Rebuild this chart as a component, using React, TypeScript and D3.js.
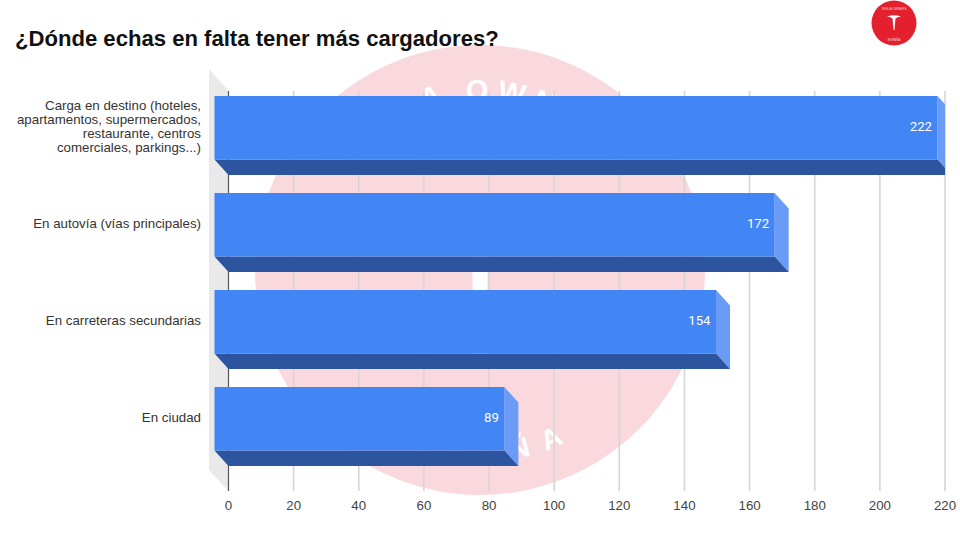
import React from "react";
import * as d3 from "d3";

const categories = [
  ["Carga en destino (hoteles,", "apartamentos, supermercados,", "restaurante, centros", "comerciales, parkings...)"],
  ["En autovía (vías principales)"],
  ["En carreteras secundarias"],
  ["En ciudad"],
];
const values = [222, 172, 154, 89];
const ticks = [0, 20, 40, 60, 80, 100, 120, 140, 160, 180, 200, 220];
const title = "¿Dónde echas en falta tener más cargadores?";

const font = "Arial, 'Liberation Sans', sans-serif";
const W = 960, H = 540;
const dx = 14, dy = 15.5;
const barH = 63.5;
const axisTop = 91, axisBottom = 491;

export default function App() {
  const x = d3.scaleLinear().domain([0, 220]).range([228.5, 945]);
  const y = d3.scaleBand<number>().domain(d3.range(values.length)).range([96, 484]).paddingInner(0).paddingOuter(0);
  const pts = (p: number[][]) => p.map((q) => q.join(",")).join(" ");
  return (
    <svg width={W} height={H} viewBox={`0 0 ${W} ${H}`} style={{ position: "absolute", left: 0, top: 0, background: "#fff" }} fontFamily={font}>
      <defs>
        <clipPath id="plot"><rect x={0} y={0} width={x(220)} height={H} /></clipPath>
        <path id="ringTop" d="M 310 270 A 170 170 0 0 1 650 270" />
        <path id="ringBottom" d="M 288 270 A 192 192 0 0 0 672 270" />
      </defs>

      <circle cx={480} cy={270} r={225} fill="#fad9de" />
      <text fontSize={29} fontWeight={700} fill="#fff" letterSpacing={8}>
        <textPath href="#ringTop" startOffset="50%" textAnchor="middle">TESLA OWNERS</textPath>
      </text>
      <text fontSize={28} fontWeight={700} fill="#fff" letterSpacing={15}>
        <textPath href="#ringBottom" startOffset="50%" textAnchor="middle">ESPAÑA</textPath>
      </text>
      <path d="M471 200 H489 L486 360 H474 Z" fill="#fff" />

      <polygon points={pts([[209, 69], [x(0), axisTop], [x(0), axisBottom], [209, 470]])} fill="#e9e9e9" />
      {ticks.map((t) => (
        <line key={t} x1={x(t)} x2={x(t)} y1={axisTop} y2={axisBottom} stroke={t === 0 ? "#555" : "#d9d4d6"} strokeWidth={t === 0 ? 1.2 : 1.6} />
      ))}

      <g clipPath="url(#plot)">
        {values.map((v, i) => {
          const t = y(i)!;
          const xb = x(v), xf = xb - dx, xl = x(0) - dx;
          return (
            <g key={i}>
              <polygon points={pts([[xf, t], [xb, t + dy], [xb, t + barH + dy], [xf, t + barH]])} fill="#6a9bf6" />
              <polygon points={pts([[xl, t + barH], [xf, t + barH], [xb, t + barH + dy], [x(0), t + barH + dy]])} fill="#2c549f" />
              <rect x={xl} y={t} width={xf - xl} height={barH} fill="#4285f4" />
            </g>
          );
        })}
      </g>

      {values.map((v, i) => (
        <text key={i} x={x(v) - dx - 5.5} y={y(i)! + barH / 2 + 3.5} textAnchor="end" fontSize={13.2} fill="#fff" fontFamily="Roboto, sans-serif">{v}</text>
      ))}

      {categories.map((lines, i) => {
        const cy = y(i)! + barH / 2 - 1;
        const lh = 14;
        return lines.map((l, k) => (
          <text key={k} x={201} y={cy + (k - (lines.length - 1) / 2) * lh + 3.8} textAnchor="end" fontSize={13.3} fill="#333">{l}</text>
        ));
      })}

      {ticks.map((t) => (
        <text key={t} x={x(t)} y={510} textAnchor="middle" fontSize={13.3} fill="#444">{t}</text>
      ))}

      <text x={15} y={46} fontSize={22.1} fontWeight={700} fill="#111">{title}</text>

      <circle cx={894} cy={23} r={22.5} fill="#e4202f" />
      <path d="M887 16.5 Q894 14 901 16.5 Q897 17 895.5 18.5 L894.5 30 H893.5 L892.5 18.5 Q891 17 887 16.5 Z" fill="#fff" />
      <text x={894} y={10} textAnchor="middle" fontSize={3.2} fill="#fff" opacity={0.75}>TESLA OWNERS</text>
      <text x={894} y={41} textAnchor="middle" fontSize={3.2} fill="#fff" opacity={0.75}>ESPAÑA</text>
    </svg>
  );
}
